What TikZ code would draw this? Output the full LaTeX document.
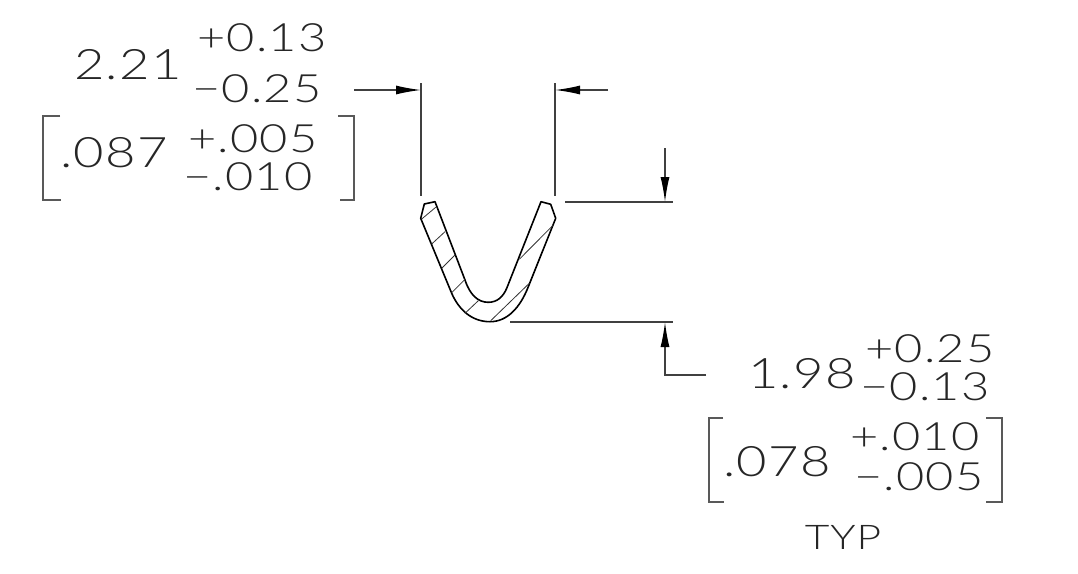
\documentclass[tikz,border=0pt]{standalone}
\usepackage{fontspec}
\setmainfont{Lato}[UprightFont=* Light,FakeStretch=1.25,LetterSpace=3]
\usetikzlibrary{arrows.meta,positioning}

\begin{document}
\begin{tikzpicture}[x=1pt,y=-1pt,
		dimtext/.style={inner sep=0pt,font=\fontsize{42}{42}\selectfont,text=black!85},
		smalltext/.style={inner sep=0pt,font=\fontsize{39}{39}\selectfont,text=black!85},
		notetext/.style={inner sep=0pt,font=\fontsize{34}{34}\selectfont,text=black!85},
		dimline/.style={line width=1.3pt,draw=black!75},
		dimarrow/.style={dimline,-{Latex[length=25pt,width=9pt,black]}},
		bracket/.style={line width=1.3pt,draw=black!65},
		profile/.style={line width=1.6pt,line join=round},
		hatch/.style={line width=0.8pt,draw=black!80}
	]
	\useasboundingbox (0,0) rectangle (1078,573);
	
	% upper dimension text
	\node[dimtext] (wide_val) at (128,65) {2.21};
	\node[smalltext] (wide_up) at (262,38) {+0.13};
	\node[smalltext] (wide_lo) at (257,89) {−0.25};
	\node[dimtext] (wide_in) at (114,153) {.087};
	\node[smalltext] (wide_in_up) at (253,139) {+.005};
	\node[smalltext] (wide_in_lo) at (248,177) {−.010};
	
	% lower dimension text
	\node[dimtext] (deep_val) at (802,374) {1.98};
	\node[smalltext] (deep_up) at (930,349) {+0.25};
	\node[smalltext] (deep_lo) at (925,387) {−0.13};
	\node[dimtext] (deep_in) at (777,462) {.078};
	\node[smalltext] (deep_in_up) at (915,437) {+.010};
	\node[smalltext] (deep_in_lo) at (919,477) {−.005};
	\node[notetext] (typ) at (843,537) {TYP};
	
	% brackets
	\draw[bracket] (60,116) -| (43,200) -- (61,200);
	\draw[bracket] (338,116) -| (354,200) -- (340,200);
	\draw[bracket] (723,418) -| (709,502) -- (724,502);
	\draw[bracket] (986,418) -| (1002,502) -- (986,502);
	
	% witness lines
	\coordinate (wit_l) at (421,83);
	\coordinate (wit_lb) at (421,196);
	\coordinate (wit_r) at (555,83);
	\coordinate (wit_rb) at (555,196);
	\coordinate (wit_t) at (565,202);
	\coordinate (wit_te) at (673,202);
	\coordinate (wit_b) at (510,322);
	\coordinate (wit_be) at (673,322);
	\draw[dimline] (wit_l) -- (wit_lb);
	\draw[dimline] (wit_r) -- (wit_rb);
	\draw[dimline] (wit_t) -- (wit_te);
	\draw[dimline] (wit_b) -- (wit_be);
	
	% arrows
	\coordinate (arr_l) at (354,90);
	\coordinate (arr_lt) at (421,90);
	\coordinate (arr_r) at (608,90);
	\coordinate (arr_rt) at (555,90);
	\coordinate (arr_t) at (665,148);
	\coordinate (arr_tt) at (665,202);
	\coordinate (arr_b) at (706,375);
	\coordinate (arr_bt) at (665,322);
	\draw[dimarrow] (arr_l) -- (arr_lt);
	\draw[dimarrow] (arr_r) -- (arr_rt);
	\draw[dimarrow] (arr_t) -- (arr_tt);
	\draw[dimarrow] (arr_b) -| (arr_bt);
	
	% section
	\draw[profile] (420.7,218.3) -- (424.3,204) -- (435,201.7) -- (465,280)
		.. controls (470,295) and (478,302.3) .. (488.3,302.3)
		.. controls (497,302.3) and (503,297) .. (506.7,288.3)
		-- (541,201.7) -- (550.7,204.3) -- (555.7,218.3) -- (528.3,286.7)
		.. controls (520,308) and (507,321.7) .. (490,321.7)
		.. controls (472,321.7) and (459,310) .. (451.7,293.3) -- cycle;
	\draw[hatch] (421.7,219) -- (435.7,207.3);
	\draw[hatch] (431.7,244) -- (445,231.7);
	\draw[hatch] (441.7,268.3) -- (455,255);
	\draw[hatch] (451.7,292.7) -- (465,279.3);
	\draw[hatch] (465,313.3) -- (478.3,300.7);
	\draw[hatch] (490.7,320.7) -- (529.3,283.3);
	\draw[hatch] (519.3,259.3) -- (553.3,225);
\end{tikzpicture}
\end{document}
